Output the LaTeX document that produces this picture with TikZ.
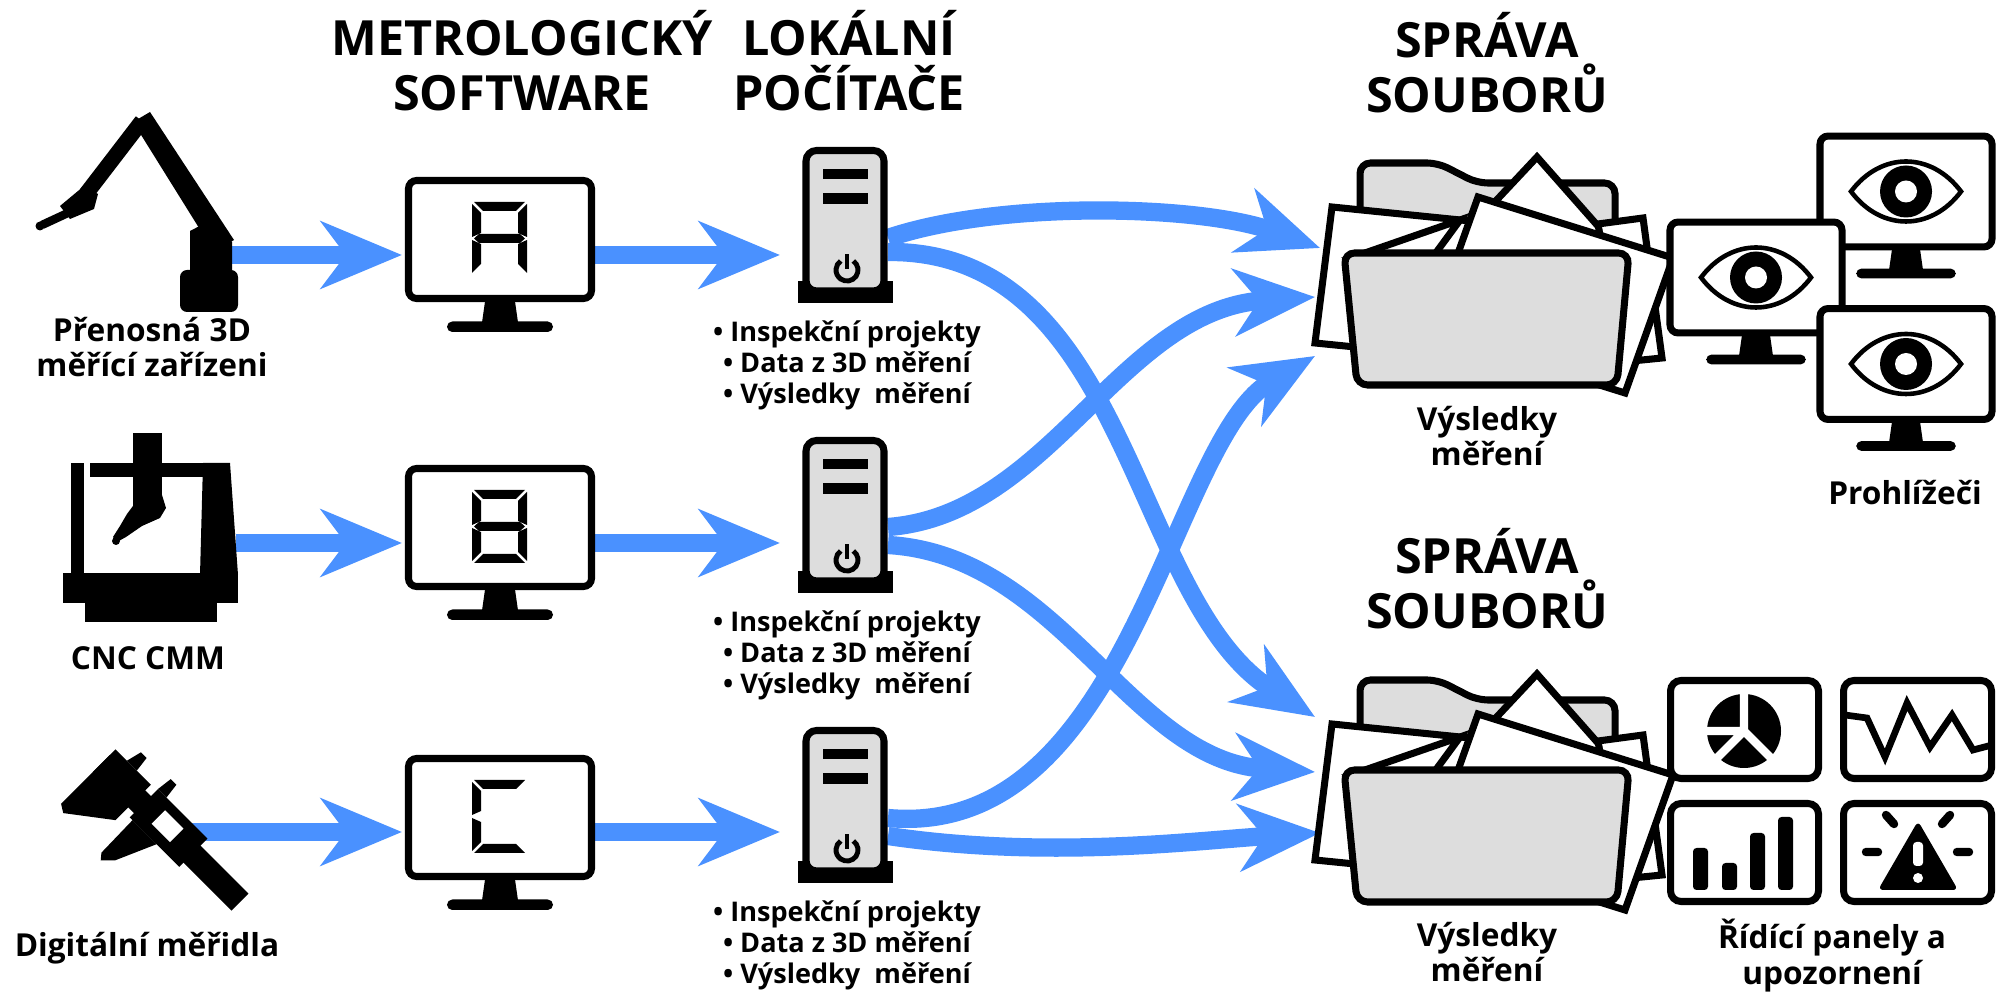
\documentclass[tikz,border=0pt]{standalone}
\usepackage{fontspec}
\setmainfont{Open Sans}
\usetikzlibrary{arrows.meta,positioning}
\definecolor{flowblue}{RGB}{74,145,255}
\definecolor{boxgray}{RGB}{221,221,221}
% seven-segment outlines, digit box 55 x 73
\def\segpatha{(2,0) -- (53,0) -- (44,9) -- (11,9) -- cycle}
\def\segpathb{(55,2) -- (55,35) -- (46,31) -- (46,11) -- cycle}
\def\segpathc{(55,38) -- (55,71) -- (46,62) -- (46,42) -- cycle}
\def\segpathd{(2,73) -- (53,73) -- (44,64) -- (11,64) -- cycle}
\def\segpathe{(0,38) -- (0,71) -- (9,62) -- (9,42) -- cycle}
\def\segpathf{(0,2) -- (0,35) -- (9,31) -- (9,11) -- cycle}
\def\segpathg{(2,36.5) -- (7,32) -- (48,32) -- (53,36.5) -- (48,41) -- (7,41) -- cycle}
\newcommand{\segdigit}[2]{%
  \foreach \s in {#2}{%
    \expandafter\let\expandafter\thisseg\csname segpath\s\endcsname
    \fill[shift={#1}] \thisseg;
  }}
\tikzset{
  flow/.style={-{Stealth[length=23pt, width=19pt, inset=7pt]}, draw=flowblue, line width=5.2pt},
  colhead/.style={font=\fontsize{13.8}{15.6}\selectfont\bfseries, align=center, inner sep=0pt},
  iconlabel/.style={font=\fontsize{9}{10.2}\selectfont\bfseries, align=center, inner sep=0pt},
  datalist/.style={font=\fontsize{7.7}{8.8}\selectfont\bfseries, align=center, inner sep=0pt},
  iconline/.style={draw=black, line width=2pt},
  pics/screen/.style={code={
    \draw[iconline, fill=white, rounded corners=2.3pt] (-91.5,-59) rectangle (91.5,59);
    \fill (-15,62) -- (15,62) -- (18,83) -- (-18,83) -- cycle;
    \fill[rounded corners=1.5pt] (-53,82) rectangle (53,92.5);
  }},
  pics/eye/.style={code={
    \draw[line width=1.3pt, fill=white] (-55,0) .. controls (-25,-40) and (25,-40) .. (55,0)
      .. controls (25,40) and (-25,40) .. (-55,0) -- cycle;
    \fill (0,0) circle[radius=26];
    \fill[white] (0,0) circle[radius=11];
  }},
  pics/tower/.style={code={
    \fill (-47.5,56) rectangle (47.5,78);
    \draw[iconline, fill=boxgray, rounded corners=3pt] (-39,66) -- (-39,-74.5) -- (39,-74.5) -- (39,66) -- cycle;
    \fill (-22,-56) rectangle (23,-46);
    \fill (-22,-32) rectangle (23,-21);
    \draw[line width=1.4pt] (2,45) ++(-55:11) arc[start angle=-55, end angle=235, radius=11];
    \draw[line width=1.4pt] (2,44) -- (2,29);
  }},
  pics/filefolder/.style={code={
    \draw[iconline, fill=boxgray, rounded corners=3pt] (-127,-60) -- (-127,-157) -- (-49,-157)
      -- (-10,-137) -- (128,-137) -- (128,-60) -- cycle;
    \draw[iconline, fill=white] (-172,23) -- (-155,-113) -- (-7,-98) -- (-22,38) -- cycle;
    \draw[iconline, fill=white] (50,-163) -- (118,-86) -- (73,-38) -- (5,-115) -- cycle;
    \draw[iconline, fill=white] (111,-96) -- (156,-102) -- (175,38) -- (135,42) -- cycle;
    \draw[iconline, fill=white] (-9,-123) -- (186,-62) -- (138,73) -- (-57,12) -- cycle;
    \draw[iconline, fill=white] (-27,-100) -- (-125,-66) -- (-52,-66) -- cycle;
    \draw[iconline, fill=boxgray, rounded corners=3pt] (-143,-67) -- (142,-67) -- (130,65) -- (-130,65) -- cycle;
  }},
  pics/panel/.style={code={
    \draw[iconline, fill=white, rounded corners=3pt] (-74,-49) rectangle (74,49);
  }}
}

\begin{document}
\begin{tikzpicture}[x=0.01cm, y=-0.01cm]
  \useasboundingbox (0,0) rectangle (2009,992);

  % column headings
  \node[colhead] (headsw) at (522,61) {METROLOGICKÝ\\SOFTWARE};
  \node[colhead] (headpc) at (849,61) {LOKÁLNÍ\\POČÍTAČE};
  \node[colhead] (headstoreA) at (1487,63) {SPRÁVA\\SOUBORŮ};
  \node[colhead] (headstoreB) at (1487,579) {SPRÁVA\\SOUBORŮ};

  % connector ends
  \coordinate (robot) at (228,255);
  \coordinate (cmm) at (236,543);
  \coordinate (caliper) at (190,832);
  \coordinate (swAin) at (402,255);
  \coordinate (swBin) at (402,543);
  \coordinate (swCin) at (402,832);
  \coordinate (swAout) at (594,255);
  \coordinate (swBout) at (594,543);
  \coordinate (swCout) at (594,832);
  \coordinate (pcAin) at (780,255);
  \coordinate (pcBin) at (780,543);
  \coordinate (pcCin) at (780,832);
  \coordinate (pcAup) at (888,238);
  \coordinate (pcAdown) at (888,252);
  \coordinate (pcBup) at (888,527);
  \coordinate (pcBdown) at (888,545);
  \coordinate (pcCup) at (888,818);
  \coordinate (pcCdown) at (888,836);
  \coordinate (filesA1) at (1320,248);
  \coordinate (filesA2) at (1315,297);
  \coordinate (filesA3) at (1315,356);
  \coordinate (filesB1) at (1315,717);
  \coordinate (filesB2) at (1315,772);
  \coordinate (filesB3) at (1320,833);

  % data flow
  \draw[flow] (robot) -- (swAin);
  \draw[flow] (cmm) -- (swBin);
  \draw[flow] (caliper) -- (swCin);
  \draw[flow] (swAout) -- (pcAin);
  \draw[flow] (swBout) -- (pcBin);
  \draw[flow] (swCout) -- (pcCin);
  \draw[flow] (pcAup) .. controls (1000,200) and (1200,205) .. (filesA1);
  \draw[flow] (pcAdown) .. controls (1130,250) and (1130,600) .. (filesB1);
  \draw[flow] (pcBup) .. controls (1050,515) and (1120,310) .. (filesA2);
  \draw[flow] (pcBdown) .. controls (1060,555) and (1130,760) .. (filesB2);
  \draw[flow] (pcCup) .. controls (1130,840) and (1170,440) .. (filesA3);
  \draw[flow] (pcCdown) .. controls (1050,860) and (1200,840) .. (filesB3);

  % portable arm
  \fill (133,122) -- (150,112) -- (234,240) -- (214,252) -- cycle;
  \draw[line width=4.4pt] (142,121) -- (86,194);
  \fill (60,206) -- (84,186) -- (98,194) -- (94,209) -- (70,219) -- cycle;
  \draw[line width=2.4pt] (70,212) -- (42,225);
  \fill (40,226) circle[radius=4.5];
  \fill (190,231) -- (213,219) -- (232,242) -- (232,274) -- (190,274) -- cycle;
  \fill[rounded corners=2pt] (180,270) rectangle (238,312);
  \node[iconlabel] (armlabel) at (152,347) {Přenosná 3D\\měřící zařízeni};

  % CNC machine
  \fill (71,463) rectangle (84,575);
  \fill (90,463) rectangle (203,477);
  \fill (203,463) -- (230,463) -- (238,575) -- (200,575) -- cycle;
  \fill (133,433) rectangle (162,500);
  \fill (133,495) -- (162,495) -- (166,508) -- (160,518) -- (142,526) -- (126,537)
    -- (117,542) -- (113,537) -- (120,526) -- (127,514) -- (133,506) -- cycle;
  \fill (116,541) circle[radius=4];
  \fill (63,573) rectangle (238,603);
  \fill (85,603) rectangle (217,622);
  \node[iconlabel] (cmmlabel) at (148,658) {CNC CMM};

  % caliper
  \begin{scope}[shift={(100,765)}, rotate=-45]
    \fill (0,-14) rectangle (196,10);
    \fill (0,-22) -- (50,-22) -- (50,28) -- (8,60) -- (0,55) -- cycle;
    \fill (16,-22) -- (30,-22) -- (28,-38) -- (20,-38) -- cycle;
    \fill (58,-24) rectangle (128,16);
    \fill (58,-24) -- (70,-24) -- (68,-40) -- (60,-40) -- cycle;
    \fill (62,16) -- (96,16) -- (78,57) -- (68,67) -- (63,61) -- cycle;
    \fill[white] (78,-14) rectangle (104,5);
  \end{scope}
  \node[iconlabel] (caliperlabel) at (147,948) {Digitální měřidla};

  % metrology software screens
  \pic at (500,239.5) {screen};
  \pic at (500,527.5) {screen};
  \pic at (500,817.5) {screen};
  \segdigit{(472,202)}{a,b,c,e,f,g}
  \segdigit{(472,490)}{a,b,c,d,e,f,g}
  \segdigit{(472,780)}{a,d,e,f}

  % local computers
  \pic at (845,225) {tower};
  \pic at (845,515) {tower};
  \pic at (845,805) {tower};
  \node[datalist] (dataA) at (847,365) {• Inspekční projekty\\• Data z 3D měření\\• Výsledky\ \ měření};
  \node[datalist] (dataB) at (847,655) {• Inspekční projekty\\• Data z 3D měření\\• Výsledky\ \ měření};
  \node[datalist] (dataC) at (847,945) {• Inspekční projekty\\• Data z 3D měření\\• Výsledky\ \ měření};

  % file storage
  \pic at (1487,320) {filefolder};
  \pic at (1487,837) {filefolder};
  \node[iconlabel] (resultsA) at (1487,436) {Výsledky\\měření};
  \node[iconlabel] (resultsB) at (1487,952) {Výsledky\\měření};

  % viewers
  \pic[scale=0.94] at (1906,191.5) {screen};
  \pic at (1906,191.5) {eye};
  \pic[scale=0.94] at (1756,277.5) {screen};
  \pic at (1756,277.5) {eye};
  \pic[scale=0.94] at (1906,364) {screen};
  \pic at (1906,364) {eye};
  \node[iconlabel] (viewerlabel) at (1905,493) {Prohlížeči};

  % dashboards and alerts
  \pic at (1744.5,729.5) {panel};
  \pic at (1917.5,729.5) {panel};
  \pic at (1744.5,852.5) {panel};
  \pic at (1917.5,852.5) {panel};
  \fill (1744,731) circle[radius=37];
  \draw[white, line width=2.4pt] (1744,731) -- ++(0,-40) (1744,731) -- ++(-40,0)
    (1744,731) -- ++(-30,30) (1744,731) -- ++(30,30);
  \draw[line width=1.9pt] (1845,715) -- (1867,718) -- (1885,757) -- (1907,703) -- (1930,747)
    -- (1952,715) -- (1973,750) -- (1992,745);
  \foreach \bx/\by in {1693/848, 1722/863, 1750/833, 1778/817}
    \fill[rounded corners=1pt] (\bx,\by) rectangle ++(15,890-\by);
  \fill[rounded corners=1.5pt] (1918,821) -- (1958,890) -- (1878,890) -- cycle;
  \fill[white, rounded corners=1pt] (1913,842) rectangle (1923,866);
  \fill[white] (1918,878) circle[radius=5];
  \draw[line width=2.4pt, line cap=round] (1866,852) -- (1878,852) (1957,852) -- (1969,852)
    (1886,815) -- (1894,824) (1942,824) -- (1950,815);
  \node[iconlabel] (dashlabel) at (1832,956) {Řídící panely a\\upozornení};
\end{tikzpicture}
\end{document}
